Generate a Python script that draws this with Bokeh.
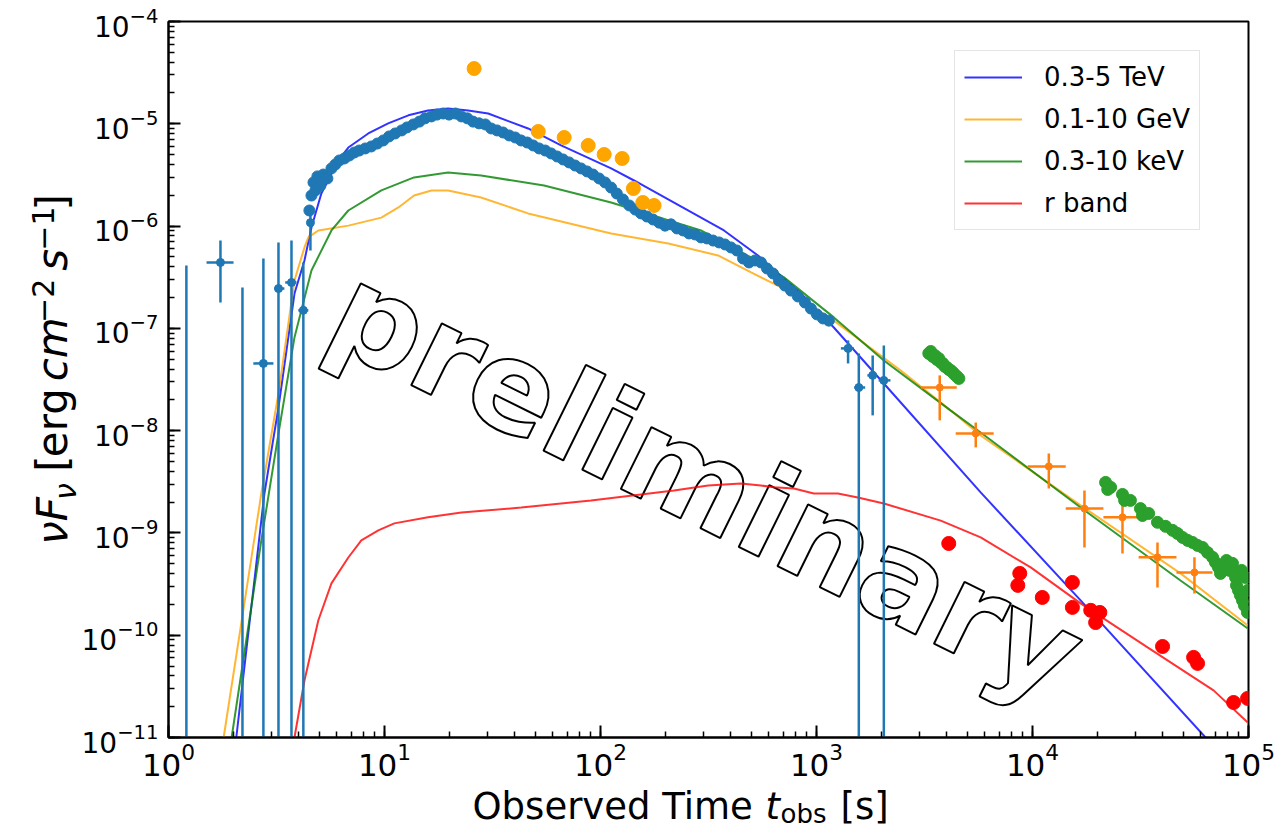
import math
from bokeh.plotting import figure
from bokeh.models import Label
from bokeh.layouts import column, row
from bokeh.core.properties import value
from bokeh.embed import file_html
from bokeh.resources import INLINE

nan = float("nan")

# ---------------- model light curves ----------------
tev_model_t = [1.96, 2.06, 2.78, 3.23, 3.83, 4.26, 4.59, 5.10, 6.11, 6.80, 8.41, 10.4, 12.9, 15.9, 19.7,
               24.4, 30.2, 46.2, 65.7, 112, 143, 373, 536, 847, 1203, 2050, 5755, 16700, 63250, 91900]
tev_model_f = [3.8e-12, 1.0e-11, 2.43e-9, 1.69e-8, 2.19e-7, 4.61e-7, 9.7e-7, 2.08e-6, 4.38e-6, 5.86e-6,
               8.04e-6, 1.01e-5, 1.21e-5, 1.35e-5, 1.41e-5, 1.35e-5, 1.26e-5, 9.0e-6, 6.14e-6, 3.66e-6,
               2.79e-6, 9.06e-7, 5.16e-7, 2.19e-7, 1.02e-7, 2.89e-8, 2.49e-9, 2.19e-10, 1.0e-11, 4.3e-12]

gev_model_t = [1.67, 1.80, 2.69, 3.23, 3.83, 4.26, 4.44, 4.94, 6.80, 9.67, 11.6, 13.7, 16.5, 19.7, 28.0,
               46.2, 112, 206, 350, 498, 707, 1203, 2455, 4185, 5755, 16700, 48440, 98900]
gev_model_f = [3.8e-12, 1.0e-11, 2.43e-9, 2.31e-8, 2.94e-7, 6.18e-7, 7.75e-7, 9.06e-7, 1.01e-6, 1.21e-6,
               1.52e-6, 1.99e-6, 2.23e-6, 2.23e-6, 1.90e-6, 1.33e-6, 8.47e-7, 6.76e-7, 5.16e-7, 3.52e-7,
               2.45e-7, 1.19e-7, 3.87e-8, 1.57e-8, 8.97e-9, 1.86e-9, 4.02e-10, 1.25e-10]

kev_model_t = [1.82, 1.96, 2.69, 3.23, 3.83, 4.59, 5.68, 6.80, 9.67, 13.7, 19.7, 28.0, 54.8, 112, 292,
               498, 707, 1203, 2050, 4185, 5755, 16700, 48440, 98900]
kev_model_f = [3.8e-12, 1.0e-11, 8.45e-10, 9.4e-9, 8.15e-8, 3.68e-7, 9.06e-7, 1.42e-6, 2.23e-6, 2.99e-6,
               3.34e-6, 3.12e-6, 2.49e-6, 1.70e-6, 9.06e-7, 4.93e-7, 3.15e-7, 1.28e-7, 4.85e-8, 1.57e-8,
               9.6e-9, 1.77e-9, 3.43e-10, 1.17e-10]

rband_model_t = [3.48, 3.83, 4.26, 4.94, 5.68, 6.80, 7.81, 9.36, 11.1, 15.9, 22.7, 42.9, 90.4, 219, 315,
                 447, 553, 635, 786, 972, 1256, 1554, 2050, 3760, 5755, 9810, 16700, 34100, 68900, 98900]
rband_model_f = [3.8e-12, 1.0e-11, 3.61e-11, 1.40e-10, 3.21e-10, 5.75e-10, 8.45e-10, 1.06e-9, 1.24e-9,
                 1.42e-9, 1.58e-9, 1.77e-9, 2.08e-9, 2.60e-9, 2.91e-9, 3.05e-9, 2.91e-9, 2.79e-9, 2.72e-9,
                 2.43e-9, 2.43e-9, 2.22e-9, 1.94e-9, 1.32e-9, 9.04e-10, 4.60e-10, 2.05e-10, 7.6e-11,
                 2.89e-11, 1.41e-11]

# ---------------- TeV data (dense) ----------------
tev_data_t = [4.49, 4.59, 4.69, 4.79, 4.89, 5.05, 5.21, 5.44, 5.68, 5.92, 6.18, 6.52, 6.88, 7.25, 7.64,
              8.15, 8.69, 9.26, 9.87, 10.5, 11.2, 12.0, 12.7, 13.6, 14.5, 15.4, 16.5, 17.5, 18.7, 19.9,
              21.3, 22.7, 24.2, 25.7, 27.4, 29.3, 31.2, 33.2, 35.4, 37.8, 40.3, 42.9, 45.8, 48.8, 52.0,
              55.5, 59.1, 63.0, 67.1, 71.6, 76.3, 81.3, 86.7, 92.4, 98.6, 105, 112, 119, 127, 136, 145,
              154, 164, 175, 187, 199, 212, 226, 241, 257, 274, 292, 311, 332, 354, 377, 402, 428, 457,
              487, 519, 553, 590, 629, 670, 714, 762, 820, 884, 942, 1004, 1071, 1141]
tev_data_f = [1.42e-6, 1.99e-6, 2.67e-6, 2.23e-6, 3.06e-6, 2.49e-6, 3.19e-6, 2.92e-6, 3.66e-6, 4.00e-6,
              4.38e-6, 4.58e-6, 4.90e-6, 5.24e-6, 5.48e-6, 5.74e-6, 6.00e-6, 6.41e-6, 6.87e-6, 7.52e-6,
              8.04e-6, 8.61e-6, 9.21e-6, 9.85e-6, 1.05e-5, 1.13e-5, 1.18e-5, 1.23e-5, 1.26e-5, 1.23e-5,
              1.26e-5, 1.18e-5, 1.13e-5, 1.05e-5, 1.01e-5, 9.85e-6, 9.00e-6, 8.61e-6, 8.22e-6, 7.69e-6,
              7.35e-6, 6.87e-6, 6.56e-6, 6.14e-6, 5.74e-6, 5.48e-6, 5.13e-6, 4.79e-6, 4.48e-6, 4.19e-6,
              3.91e-6, 3.66e-6, 3.42e-6, 3.19e-6, 2.92e-6, 2.67e-6, 2.38e-6, 2.08e-6, 1.82e-6, 1.59e-6,
              1.45e-6, 1.33e-6, 1.24e-6, 1.16e-6, 1.08e-6, 1.01e-6, 1.04e-6, 9.48e-7, 9.06e-7, 8.47e-7,
              8.28e-7, 7.75e-7, 7.57e-7, 7.22e-7, 6.92e-7, 6.61e-7, 6.18e-7, 5.77e-7, 4.82e-7, 4.41e-7,
              4.61e-7, 4.41e-7, 3.85e-7, 3.44e-7, 2.94e-7, 2.62e-7, 2.34e-7, 2.05e-7, 1.79e-7, 1.56e-7,
              1.37e-7, 1.25e-7, 1.19e-7]

# ---------------- TeV data with error bars ----------------
tev_err_t = [1.21, 1.74, 2.20, 2.75, 3.23, 3.71, 4.21, 4.54, 1400, 1570, 1820, 2050]
tev_err_f = [nan, 4.41e-7, nan, 4.54e-8, 2.45e-7, 2.81e-7, 1.50e-7, 1.08e-6, 6.37e-8, 2.64e-8, 3.47e-8, 3.10e-8]
tev_err_hi = [4.12e-7, 7.22e-7, 2.51e-7, 4.82e-7, 6.92e-7, 7.22e-7, 4.41e-7, 1.59e-6, 7.62e-8, 5.69e-8, 5.43e-8, 6.81e-8]
tev_err_lo = [1e-13, 1.79e-7, 1e-13, 1e-13, 1e-13, 1e-13, 1e-13, 5.77e-7, 4.54e-8, 1e-13, 1.41e-8, 1e-13]
tev_err_tlo = [1.21, 1.50, 2.20, 2.47, 3.09, 3.47, 3.99, 4.54, 1297, 1495, 1720, 1940]
tev_err_thi = [1.21, 2.00, 2.20, 3.06, 3.44, 3.91, 4.44, 4.54, 1489, 1680, 1900, 2200]

# ---------------- GeV (Fermi) points ----------------
gev_data_t = [26.0, 51.5, 67.9, 87.7, 104, 126, 142, 157, 177]
gev_data_f = [3.47e-5, 8.41e-6, 7.35e-6, 6.14e-6, 5.01e-6, 4.58e-6, 2.33e-6, 1.70e-6, 1.59e-6]

# ---------------- late GeV points with error bars ----------------
late_t = [3720, 5460, 11900, 17400, 26100, 37900, 56200]
late_f = [2.64e-8, 9.40e-9, 4.47e-9, 1.73e-9, 1.42e-9, 5.77e-10, 4.11e-10]
late_tlo = [3040, 4410, 9500, 14250, 21300, 31000, 46400]
late_thi = [4460, 6610, 14250, 21300, 30700, 46400, 68100]
late_flo = [1.26e-8, 6.86e-9, 2.72e-9, 7.21e-10, 6.31e-10, 2.93e-10, 2.56e-10]
late_fhi = [3.47e-8, 1.20e-8, 5.98e-9, 2.60e-9, 1.99e-9, 8.07e-10, 5.77e-10]

# ---------------- X-ray points ----------------
xrt_t = [3310, 3380, 3455, 3530, 3605, 3680, 3760, 3845, 3925, 4010, 4095, 4185, 4275, 4365, 4460, 4560,
         21800, 22300, 23000, 26100, 26700, 28400, 31600, 32300, 34500, 37900, 41300, 44500, 46900,
         49500, 52300, 55100, 58100, 61300, 64600, 68200, 70300, 72600, 74200, 79100, 81700, 84300,
         87100, 88000, 89900, 91800, 92900, 93800, 95800, 96800, 98900, 98900]
xrt_f = [5.69e-8, 5.94e-8, 5.31e-8, 5.43e-8, 4.97e-8, 5.08e-8, 4.65e-8, 4.54e-8, 4.25e-8, 4.15e-8,
         3.97e-8, 3.87e-8, 3.71e-8, 3.54e-8, 3.39e-8, 3.24e-8,
         3.12e-9, 2.66e-9, 2.79e-9, 2.38e-9, 2.08e-9, 2.08e-9, 1.73e-9, 1.48e-9, 1.55e-9, 1.27e-9,
         1.16e-9, 1.06e-9, 9.89e-10, 9.04e-10, 8.45e-10, 8.07e-10, 7.55e-10, 7.21e-10, 6.44e-10,
         5.77e-10, 5.15e-10, 4.60e-10, 4.02e-10, 5.38e-10, 4.30e-10, 5.04e-10, 3.67e-10, 3.07e-10,
         2.74e-10, 2.45e-10, 4.30e-10, 2.19e-10, 1.95e-10, 3.67e-10, 2.74e-10, 1.67e-10]

# ---------------- optical r-band points ----------------
opt_t = [4095, 8730, 8550, 11100, 15300, 15300, 18600, 20500, 19600, 40000, 55700, 58100, 85300, 99000]
opt_f = [7.89e-10, 4.02e-10, 3.07e-10, 2.34e-10, 3.28e-10, 1.87e-10, 1.75e-10, 1.67e-10, 1.33e-10,
         7.76e-11, 6.07e-11, 5.30e-11, 2.20e-11, 2.41e-11]

legend_labels = ["0.3-5 TeV", "0.1-10 GeV", "0.3-10 keV", "r band"]
WATERMARK = "preliminary"
wm_t, wm_f = 310, 3.1e-9

LEFT_STRIP = 78
BOTTOM_STRIP = 44
W, H = 1278, 828

p = figure(width=W - LEFT_STRIP, height=H - BOTTOM_STRIP, x_axis_type="log", y_axis_type="log",
           x_range=(1, 1e5), y_range=(1e-11, 1e-4),
           output_backend="svg", toolbar_location=None,
           min_border_left=89, min_border_right=30, min_border_top=21, min_border_bottom=47)
p.grid.visible = False
p.background_fill_color = "white"
p.border_fill_color = "white"
p.outline_line_color = "black"
p.outline_line_width = 2

# watermark (underneath everything)
p.text(x=[wm_t], y=[wm_f], text=[WATERMARK], angle=-0.459,
       text_align="center", text_baseline="middle",
       text_font=value("DejaVu Sans"), text_font_style="bold", text_font_size="126px",
       text_color="white", text_outline_color="black")

# model curves
p.line(tev_model_t, tev_model_f, line_color="blue", line_alpha=0.8, line_width=2, legend_label=legend_labels[0])
p.line(gev_model_t, gev_model_f, line_color="orange", line_alpha=0.8, line_width=2, legend_label=legend_labels[1])
p.line(kev_model_t, kev_model_f, line_color="green", line_alpha=0.8, line_width=2, legend_label=legend_labels[2])
p.line(rband_model_t, rband_model_f, line_color="red", line_alpha=0.8, line_width=2, legend_label=legend_labels[3])

# TeV data
p.segment(x0=tev_err_t, y0=tev_err_lo, x1=tev_err_t, y1=tev_err_hi, line_color="#1f77b4", line_width=2.5)
p.segment(x0=tev_err_tlo, y0=tev_err_f, x1=tev_err_thi, y1=tev_err_f, line_color="#1f77b4", line_width=2.5)
p.scatter(tev_err_t, tev_err_f, size=8, color="#1f77b4")
p.scatter(tev_data_t, tev_data_f, size=11, color="#1f77b4")

# GeV points
p.scatter(gev_data_t, gev_data_f, size=14, color="orange")

# late GeV points with error bars
p.segment(x0=late_t, y0=late_flo, x1=late_t, y1=late_fhi, line_color="#ff7f0e", line_width=2.5)
p.segment(x0=late_tlo, y0=late_f, x1=late_thi, y1=late_f, line_color="#ff7f0e", line_width=2.5)
p.scatter(late_t, late_f, size=7, color="#ff7f0e")

# X-ray
p.scatter(xrt_t, xrt_f, size=12, color="#2ca02c")

# optical
p.scatter(opt_t, opt_f, size=14, color="red")

# axes styling
for ax in (p.xaxis[0], p.yaxis[0]):
    ax.axis_line_color = "black"
    ax.axis_line_width = 2
    ax.major_tick_in = 12
    ax.major_tick_out = 0
    ax.minor_tick_in = 6
    ax.minor_tick_out = 0
    ax.major_tick_line_width = 2
    ax.minor_tick_line_width = 1.5
    ax.major_tick_line_color = "black"
    ax.minor_tick_line_color = "black"
    ax.major_label_text_font = "DejaVu Sans"
    ax.major_label_text_color = "black"
    ax.axis_label = None
p.xaxis.major_label_text_font_size = "31px"
p.yaxis.major_label_text_font_size = "28px"
p.xaxis.major_label_standoff = 5
p.yaxis.major_label_standoff = 10

# legend
lg = p.legend[0]
lg.location = (786, 507)
lg.label_text_font = "DejaVu Sans"
lg.label_text_font_size = "26px"
lg.label_text_color = "black"
lg.glyph_width = 58
lg.glyph_height = 34
lg.label_height = 34
lg.label_standoff = 22
lg.spacing = 8
lg.padding = 9
lg.margin = 0
lg.border_line_color = "#cccccc"
lg.border_line_width = 1.5
lg.background_fill_color = "white"
lg.background_fill_alpha = 0.85

# ---------------- axis-label strips (coordinates = page pixels) ----------------
LF = "DejaVu Sans"

ys = figure(width=LEFT_STRIP, height=H - BOTTOM_STRIP, x_range=(0, LEFT_STRIP), y_range=(H - BOTTOM_STRIP, 0),
            x_axis_location=None, y_axis_location=None, output_backend="svg", toolbar_location=None,
            min_border=0)
xs = figure(width=W, height=BOTTOM_STRIP, x_range=(0, W), y_range=(H, H - BOTTOM_STRIP),
            x_axis_location=None, y_axis_location=None, output_backend="svg", toolbar_location=None,
            min_border=0)
for f in (ys, xs):
    f.grid.visible = False
    f.outline_line_color = None
    f.background_fill_color = "white"
    f.border_fill_color = "white"

def piece(fig, text, x, y, size, style="normal", angle=0.0):
    fig.add_layout(Label(x=x, y=y, text=text, text_font=LF, text_font_size=size,
                         text_font_style=style, text_color="black", text_align="left",
                         text_baseline="middle", angle=angle))

piece(xs, "Observed Time", 472, 806, "37px")
piece(xs, "t", 765, 806, "37px", "italic")
piece(xs, "obs", 780, 813, "26px")
piece(xs, "[s]", 840, 806, "37px")

A = math.pi / 2
piece(ys, "\u03bdF", 52, 573, "42px", "italic", A)
piece(ys, "\u03bd", 65, 524, "30px", "italic", A)
piece(ys, "[", 52, 493, "42px", "normal", A)
piece(ys, "erg", 52, 477, "42px", "normal", A)
piece(ys, "cm", 52, 394, "42px", "italic", A)
piece(ys, "\u22122", 42, 330, "30px", "normal", A)
piece(ys, "s", 52, 273, "42px", "italic", A)
piece(ys, "\u22121", 42, 251, "30px", "normal", A)
piece(ys, "]", 52, 207, "42px", "normal", A)

layout = column(row(ys, p), xs)
open("out.html", "w").write(file_html(layout, INLINE))
